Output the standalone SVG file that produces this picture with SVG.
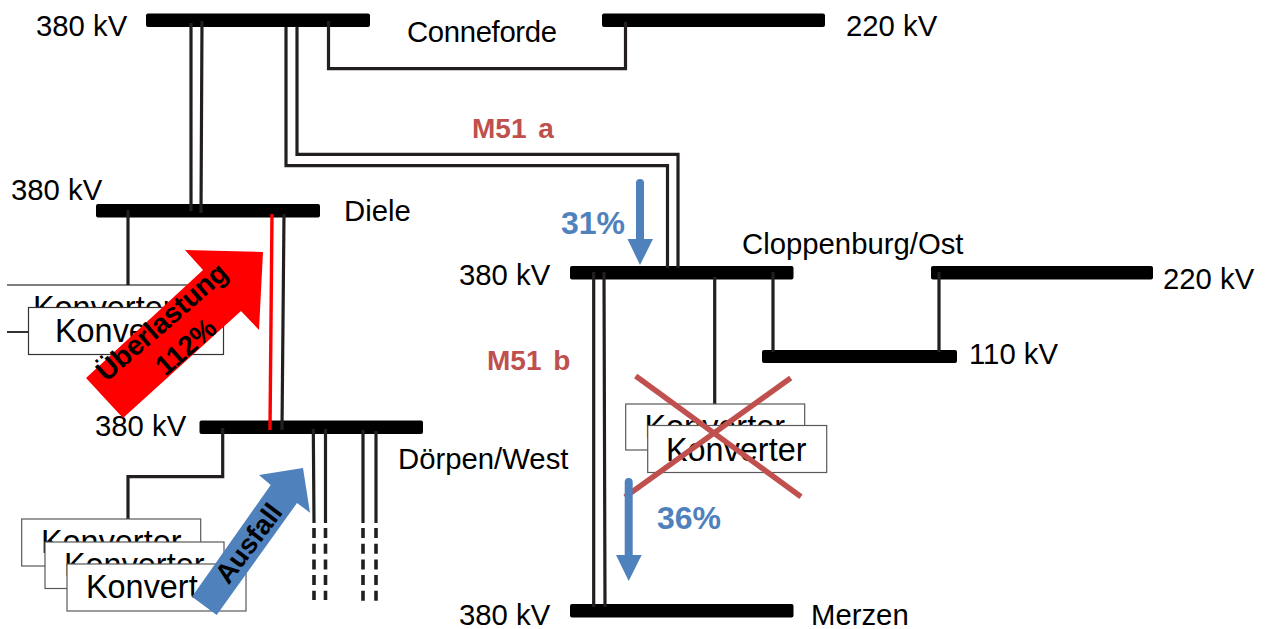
<svg xmlns="http://www.w3.org/2000/svg" width="1267" height="629" viewBox="0 0 1267 629">
<style>
text{font-family:"Liberation Sans",Arial,sans-serif;fill:#000}
.l{font-size:29.300px;transform:translateY(0.800px)}
.k{font-size:32.400px}
.b{font-size:28px;font-weight:bold}
.m{font-size:28px;font-weight:bold;fill:#c0504d;word-spacing:4px}
.p{font-size:32px;font-weight:bold;fill:#4f81bd}
.bar{fill:#000}
.c{fill:none;stroke:#231f20;stroke-width:3.2}
.d{fill:none;stroke:#231f20;stroke-width:3.6;stroke-dasharray:10 5.7}
.box{fill:#fff;stroke:#595959;stroke-width:1.2}
.x{stroke:#c0504d;stroke-width:5.5;fill:none}
.f{fill:none;stroke:#4f81bd;stroke-width:8;stroke-linecap:round}
</style>
<rect width="1267" height="629" fill="#fff"/>
<g id="bus-conneforde-380"><rect class="bar" x="146" y="13.5" width="224" height="13.5" rx="2"/><text class="l" x="36" y="35">380 kV</text></g>
<g id="bus-conneforde-220"><rect class="bar" x="602" y="13.5" width="223" height="13.5" rx="2"/><text class="l" x="846" y="35">220 kV</text><text class="l" x="407" y="41" textLength="150">Conneforde</text></g>
<g id="bus-diele"><rect class="bar" x="96" y="204" width="224" height="13.5" rx="2"/><text class="l" x="11" y="199">380 kV</text><text class="l" x="344" y="220">Diele</text></g>
<g id="bus-doerpen"><rect class="bar" x="199.500" y="420.500" width="223.500" height="13.500" rx="2"/><text class="l" x="95" y="435">380 kV</text><text class="l" x="398" y="468">Dörpen/West</text></g>
<g id="bus-cloppenburg-380"><rect class="bar" x="570" y="266" width="223.500" height="13.500" rx="2"/><text class="l" x="459" y="284">380 kV</text><text class="l" x="742" y="253">Cloppenburg/Ost</text></g>
<g id="bus-cloppenburg-220"><rect class="bar" x="931" y="266" width="222" height="13.500" rx="2"/><text class="l" x="1163" y="288">220 kV</text></g>
<g id="bus-cloppenburg-110"><rect class="bar" x="762" y="350" width="195" height="13" rx="2"/><text class="l" x="969" y="363">110 kV</text></g>
<g id="bus-merzen"><rect class="bar" x="570" y="604" width="223.500" height="13.500" rx="2"/><text class="l" x="459" y="624">380 kV</text><text class="l" x="811" y="624">Merzen</text></g>
<g id="connectors">
<path class="c" d="M191 23V211M202 21L201 213"/>
<path class="c" d="M286 27V165.700H667.500V268M297 27V154.300H678V268"/>
<path class="c" d="M328.500 21V68.700H625.500V22"/>
<path class="c" d="M128 210V286"/>
<path class="c" d="M284 214L282 430"/>
<path fill="none" stroke="#f00" stroke-width="3.400" d="M272 214L270 430"/>
<path class="c" d="M222.700 428V476.700H128V519"/>
<path class="c" d="M313.300 429L314 523M325.500 429V523M363 430V523M376 431V523"/>
<path class="d" d="M314 528V600M325.500 528V600M363 528V602M376 528V602"/>
<path class="c" d="M593.700 272V607M604 272L605 607"/>
<path class="c" d="M714.700 277V404M773 272V352M939 272V352"/>
</g>
<g id="konverter-diele-1"><path class="box" style="stroke:#000" d="M7 285H200V332H7"/><text class="k" x="33" y="319">Konverter</text></g>
<g id="konverter-diele-2"><path fill="none" stroke="#000" stroke-width="1.200" d="M7 332H28"/><rect class="box" style="stroke:#333" x="28.500" y="307.500" width="195" height="47"/><text class="k" x="55" y="342">Konverter</text></g>
<g id="konverter-doerpen-1"><rect class="box" x="21.700" y="519" width="179" height="47"/><text class="k" x="41" y="553">Konverter</text></g>
<g id="konverter-doerpen-2"><rect class="box" x="45" y="542" width="179" height="46.500"/><text class="k" x="64" y="576">Konverter</text></g>
<g id="konverter-doerpen-3"><rect class="box" x="67" y="564" width="179" height="47"/><text class="k" x="86" y="598">Konvert</text></g>
<g id="konverter-cloppenburg-1"><rect class="box" x="625.700" y="404" width="179" height="46"/><text class="k" x="644.500" y="438">Konverter</text></g>
<g id="konverter-cloppenburg-2"><rect class="box" x="647.700" y="425.500" width="179" height="47"/><text class="k" x="666" y="461">Konverter</text></g>
<g id="overlay-failure">
<path class="x" d="M635.700 376L801 496.700M790.700 378L625 497"/>
</g>
<g id="arrow-ueberlastung">
<polygon fill="#f00" points="86,378 123,418 241,311 259,330 263,252 185,250 203,270"/>
<text class="b" text-anchor="middle" transform="translate(168,329) rotate(-41)">Überlastung</text>
<text class="b" text-anchor="middle" transform="translate(192,354) rotate(-41)">112%</text>
</g>
<g id="arrow-ausfall">
<polygon fill="#4f81bd" points="192,596.700 216.700,615 297,503 310,512.700 303,468 259,475 270.700,485"/>
<text class="b" style="font-size:27.500px" text-anchor="middle" transform="translate(256,549) rotate(-53)">Ausfall</text>
</g>
<g id="flow-m51a">
<text class="m" x="472" y="138">M51 a</text>
<path class="f" d="M640 183V240"/><polygon fill="#4f81bd" points="627.500,239 653,239 640,265"/>
<text class="p" x="561" y="234">31%</text>
</g>
<g id="flow-m51b">
<text class="m" x="487" y="370">M51 b</text>
<path class="f" d="M628.700 482V556"/><polygon fill="#4f81bd" points="616,555 641.700,555 628.700,581"/>
<text class="p" x="657" y="529">36%</text>
</g>
</svg>
